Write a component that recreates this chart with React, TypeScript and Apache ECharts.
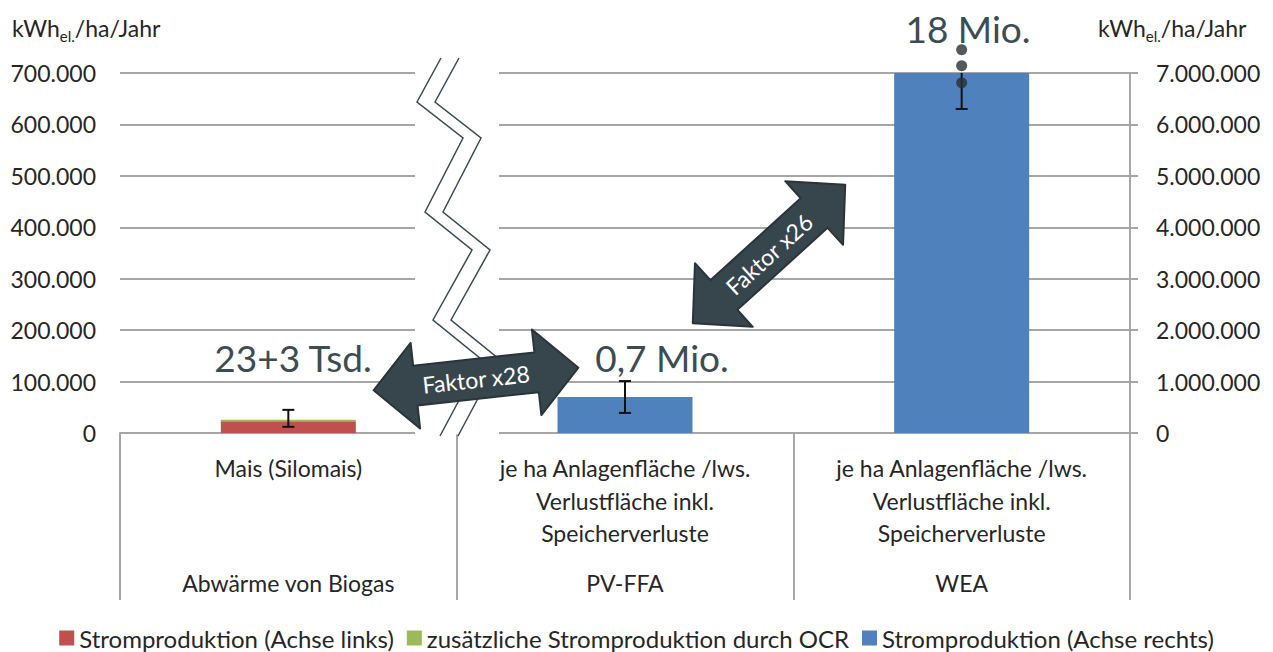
import React, { useEffect, useRef } from "react";
import * as echarts from "echarts";

const categories = [
  "Mais (Silomais)",
  "je ha Anlagenfläche /lws.\nVerlustfläche inkl.\nSpeicherverluste",
  "je ha Anlagenfläche /lws.\nVerlustfläche inkl.\nSpeicherverluste",
];
const groupLabels = ["Abwärme von Biogas", "PV-FFA", "WEA"];
const leftTicks = { min: 0, max: 700000, interval: 100000 };
const rightTicks = { min: 0, max: 7000000, interval: 1000000 };

const stromLinks = [23000, "-", "-"];
const ocrZusatz = [3000, "-", "-"];
const stromRechts = ["-", 700000, 18000000];

// error bars: [categoryIndex, low, high, hasTopCap]
const errLeft = [[0, 12000, 45000, 1]];
const errRight = [
  [1, 390000, 1010000, 1],
  [2, 6300000, 7000000, 0],
];
// axis-break dots above the WEA error bar
const breakDots = [
  [2, 6810000],
  [2, 7140000],
  [2, 7450000],
];

const valueNotes = ["23+3 Tsd.", "0,7 Mio.", "18 Mio."];
const factorNotes = ["Faktor x28", "Faktor x26"];
const unitLabel = "kWh";
const unitSub = "el.";
const unitTail = "/ha/Jahr";
const legendNames = [
  "Stromproduktion (Achse links)",
  "zusätzliche Stromproduktion durch OCR",
  "Stromproduktion (Achse rechts)",
];

const FONT = "Lato, 'Noto Sans', sans-serif";
const GRID = "#a6a6a6";
const TXT = "#262626";
const SLATE = "#37464c";

const de = (v: number) => String(v).replace(/\B(?=(\d{3})+(?!\d))/g, ".");

function errRender(params: any, api: any) {
  const x = api.value(0);
  const lo = api.coord([x, api.value(1)]);
  const hi = api.coord([x, api.value(2)]);
  const cap = api.value(3);
  const st = { stroke: "#111", lineWidth: 2 };
  const ch: any[] = [
    { type: "line", shape: { x1: lo[0], y1: lo[1], x2: hi[0], y2: hi[1] }, style: st },
    { type: "line", shape: { x1: lo[0] - 6, y1: lo[1], x2: lo[0] + 6, y2: lo[1] }, style: st },
  ];
  if (cap) ch.push({ type: "line", shape: { x1: hi[0] - 6, y1: hi[1], x2: hi[0] + 6, y2: hi[1] }, style: st });
  return { type: "group", children: ch };
}

function arrow(cx: number, cy: number, rot: number, label: string) {
  const L = 206, hl = 42, H = 86, s = 40;
  const a = L / 2;
  const pts = [
    [-a, 0], [-a + hl, -H / 2], [-a + hl, -s / 2], [a - hl, -s / 2], [a - hl, -H / 2],
    [a, 0], [a - hl, H / 2], [a - hl, s / 2], [-a + hl, s / 2], [-a + hl, H / 2],
  ];
  return {
    type: "group",
    x: cx,
    y: cy,
    rotation: rot,
    z: 50,
    children: [
      { type: "polygon", z: 50, shape: { points: pts }, style: { fill: SLATE, stroke: "#2a3539", lineWidth: 2, lineJoin: "round" } },
      {
        type: "text",
        z: 51,
        x: 0,
        y: 0,
        style: { text: label, fill: "#fff", font: `23px ${FONT}`, textAlign: "center", textVerticalAlign: "middle", align: "center", verticalAlign: "middle" },
      },
    ],
  };
}

function zig(dx: number) {
  const base = [
    [441, 58], [417, 102], [463, 138], [425, 212], [472, 250], [433, 320], [481, 359], [440, 436],
  ];
  return {
    type: "polyline",
    z: 40,
    shape: { points: base.map((p) => [p[0] + dx, p[1]]) },
    style: { stroke: "#3b4a50", lineWidth: 1.5, fill: null },
  };
}

function unitText(x: number) {
  return {
    type: "text",
    x,
    y: 28,
    z: 60,
    style: {
      text: `{a|${unitLabel}}{b|${unitSub}}{a|${unitTail}}`,
      textVerticalAlign: "middle",
      verticalAlign: "middle",
      rich: {
        a: { fontSize: 23, fontFamily: FONT, fill: TXT, color: TXT, lineHeight: 30, verticalAlign: "middle" },
        b: { fontSize: 15, fontFamily: FONT, fill: TXT, color: TXT, lineHeight: 30, verticalAlign: "bottom" },
      },
    },
  };
}

export default function App() {
  const ref = useRef<HTMLDivElement>(null);
  useEffect(() => {
    if (!ref.current) return;
    const chart = echarts.init(ref.current, undefined, { renderer: "svg" });
    chart.setOption({
      animation: false,
      backgroundColor: "#fff",
      textStyle: { fontFamily: FONT },
      grid: { left: 120, right: 143, top: 73, bottom: 219, containLabel: false },
      legend: {
        data: legendNames,
        top: 626,
        padding: 0,
        left: "center",
        itemWidth: 15,
        itemHeight: 15,
        itemGap: 13,
        icon: "rect",
        textStyle: { fontSize: 24, lineHeight: 24, color: TXT, fontFamily: FONT },
      },
      xAxis: [
        {
          type: "category",
          data: categories,
          axisLine: { show: true, lineStyle: { color: GRID, width: 2 } },
          axisTick: { show: true, length: 167, interval: 0, lineStyle: { color: GRID, width: 2 } },
          axisLabel: { interval: 0, fontSize: 23, color: TXT, lineHeight: 32.5, margin: 19, fontFamily: FONT },
        },
        {
          type: "category",
          data: groupLabels,
          position: "bottom",
          offset: 138,
          axisLine: { show: false },
          axisTick: { show: false },
          axisLabel: { interval: 0, fontSize: 23, color: TXT, lineHeight: 24, margin: 0, fontFamily: FONT },
        },
      ],
      yAxis: [
        {
          type: "value",
          ...leftTicks,
          axisLine: { show: false },
          axisTick: { show: false },
          splitLine: { show: true, lineStyle: { color: GRID, width: 2 } },
          axisLabel: { fontSize: 23, color: TXT, margin: 24, formatter: (v: number) => de(v), fontFamily: FONT },
        },
        {
          type: "value",
          ...rightTicks,
          position: "right",
          axisLine: { show: true, lineStyle: { color: GRID, width: 2 } },
          axisTick: { show: true, length: 8, lineStyle: { color: GRID, width: 2 } },
          splitLine: { show: false },
          axisLabel: { fontSize: 23, color: TXT, margin: 26, formatter: (v: number) => de(v), fontFamily: FONT },
        },
      ],
      series: [
        {
          name: legendNames[0],
          type: "bar",
          stack: "links",
          yAxisIndex: 0,
          barWidth: 135,
          barGap: "-100%",
          itemStyle: { color: "#c0504d" },
          data: stromLinks,
        },
        {
          name: legendNames[1],
          type: "bar",
          stack: "links",
          yAxisIndex: 0,
          barWidth: 135,
          barGap: "-100%",
          itemStyle: { color: "#9bbb59" },
          data: ocrZusatz,
        },
        {
          name: legendNames[2],
          type: "bar",
          yAxisIndex: 1,
          barWidth: 135,
          barGap: "-100%",
          itemStyle: { color: "#4f81bd" },
          data: stromRechts,
        },
        { type: "custom", yAxisIndex: 0, renderItem: errRender, data: errLeft, z: 10 },
        { type: "custom", yAxisIndex: 1, renderItem: errRender, data: errRight, z: 10 },
        {
          type: "scatter",
          yAxisIndex: 1,
          clip: false,
          symbolSize: 11,
          itemStyle: { color: "#2b3032" },
          data: breakDots,
          z: 11,
        },
      ],
      graphic: [
        { type: "rect", z: 30, shape: { x: 415, y: 56, width: 84, height: 378.5 }, style: { fill: "#fff" } },
        zig(0),
        zig(18),
        arrow(476, 379, 0.11, factorNotes[0]),
        arrow(769, 254, 0.737, factorNotes[1]),
        {
          type: "text", x: 293, y: 357, z: 60,
          style: { text: valueNotes[0], fill: "#3d4c53", font: `37px ${FONT}`, textAlign: "center", textVerticalAlign: "middle", align: "center", verticalAlign: "middle" },
        },
        {
          type: "text", x: 662, y: 357, z: 60,
          style: { text: valueNotes[1], fill: "#3d4c53", font: `37px ${FONT}`, textAlign: "center", textVerticalAlign: "middle", align: "center", verticalAlign: "middle" },
        },
        {
          type: "text", x: 968, y: 28, z: 60,
          style: { text: valueNotes[2], fill: "#3d4c53", font: `37px ${FONT}`, textAlign: "center", textVerticalAlign: "middle", align: "center", verticalAlign: "middle" },
        },
        unitText(12),
        unitText(1098),
      ],
    });
    return () => chart.dispose();
  }, []);
  return <div ref={ref} style={{ width: 1273, height: 652, position: "absolute", left: 0, top: 0 }} />;
}
